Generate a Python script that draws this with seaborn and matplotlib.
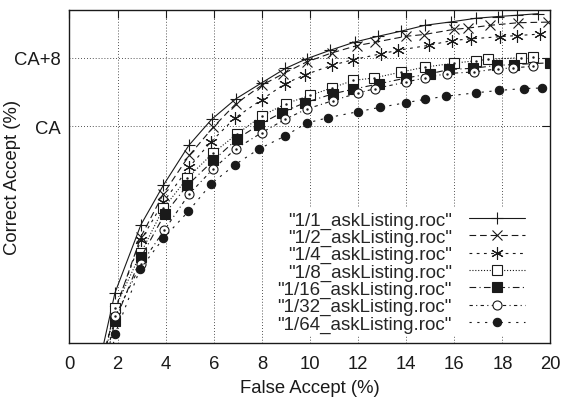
import matplotlib
matplotlib.use("Agg")
import matplotlib.pyplot as plt
import seaborn as sns
import numpy as np

sns.set_theme(style="white")
plt.rcParams['font.family'] = ['Liberation Sans', 'DejaVu Sans']

# ---- data (y relative to CA) ----
labels = ['"1/1_askListing.roc"', '"1/2_askListing.roc"', '"1/4_askListing.roc"',
          '"1/8_askListing.roc"', '"1/16_askListing.roc"', '"1/32_askListing.roc"',
          '"1/64_askListing.roc"']

x_1_1 = [1.35, 1.89, 2.97, 3.9, 4.96, 5.91, 6.92, 7.99, 8.98, 9.86, 10.83, 11.87, 12.84, 13.8, 14.78, 15.85, 16.9, 17.8, 18.6, 19.5]
y_1_1 = [-26.3, -19.45, -11.5, -6.9, -2.24, 0.8, 3.2, 5.06, 6.75, 7.87, 8.86, 9.83, 10.5, 11.1, 11.78, 12.17, 12.6, 12.8, 12.95, 13.14]

x_1_2 = [1.4, 1.9, 2.97, 3.9, 4.98, 5.98, 6.92, 7.99, 8.89, 9.86, 10.9, 11.94, 12.7, 14.0, 14.74, 15.98, 16.55, 17.5, 18.66, 19.9]
y_1_2 = [-27.0, -21.5, -12.9, -7.9, -3.4, -0.1, 2.63, 4.77, 6.13, 7.5, 8.55, 9.4, 9.8, 10.5, 10.7, 11.3, 11.45, 11.78, 12.08, 12.15]

x_1_4 = [1.4, 1.9, 2.97, 3.9, 4.98, 5.87, 6.88, 7.99, 8.96, 9.79, 10.9, 11.77, 12.95, 13.67, 14.95, 15.9, 16.7, 17.9, 18.6, 19.55]
y_1_4 = [-27.0, -21.3, -13.3, -8.86, -4.77, -1.85, 0.96, 3.1, 4.96, 6.0, 7.1, 7.75, 8.45, 8.86, 9.45, 10.0, 10.2, 10.45, 10.58, 10.75]

x_1_8 = [1.45, 1.9, 2.97, 3.9, 4.9, 5.98, 6.98, 7.99, 9.0, 10.0, 10.9, 11.8, 12.66, 13.8, 14.78, 15.97, 16.9, 17.4, 18.78, 19.28]
y_1_8 = [-27.0, -21.2, -14.8, -9.6, -6.05, -3.1, -0.88, 1.19, 2.63, 3.6, 4.46, 5.35, 5.63, 6.33, 6.9, 7.35, 7.65, 7.8, 8.0, 8.05]

x_1_16 = [1.5, 1.9, 2.97, 3.97, 4.9, 5.98, 6.98, 7.89, 8.82, 9.79, 10.97, 11.77, 12.88, 14.0, 14.99, 15.79, 16.76, 17.79, 18.49, 19.98]
y_1_16 = [-27.5, -22.7, -15.3, -10.2, -6.9, -4.0, -1.46, 0.18, 1.58, 2.75, 3.8, 4.3, 4.96, 5.63, 6.13, 6.62, 6.76, 7.1, 7.2, 7.4]

x_1_32 = [1.5, 1.9, 2.97, 3.95, 4.98, 5.98, 6.92, 7.99, 8.96, 9.86, 10.97, 12.0, 12.7, 14.0, 14.8, 15.7, 16.8, 17.8, 18.43, 19.27]
y_1_32 = [-27.5, -22.2, -16.1, -12.1, -7.9, -4.96, -2.63, -0.76, 0.8, 2.0, 3.0, 3.88, 4.38, 5.16, 5.65, 6.15, 6.33, 6.7, 6.8, 7.0]

x_1_64 = [1.6, 1.9, 2.93, 3.9, 4.94, 5.9, 6.88, 7.89, 8.96, 9.86, 10.76, 12.0, 12.9, 14.0, 14.8, 15.65, 16.9, 17.87, 18.9, 19.66]
y_1_64 = [-29.0, -24.2, -16.7, -13.1, -9.95, -6.7, -4.5, -2.63, -1.15, 0.37, 1.0, 1.7, 2.2, 2.75, 3.15, 3.5, 3.9, 4.18, 4.4, 4.46]

xs = [x_1_1, x_1_2, x_1_4, x_1_8, x_1_16, x_1_32, x_1_64]
ys = [y_1_1, y_1_2, y_1_4, y_1_8, y_1_16, y_1_32, y_1_64]

x_ticks = list(range(0, 21, 2))
y_ticks = [0, 8]
y_ticklabels = ["CA", "CA+8"]

# ---- styles ----
styles = [
    dict(marker='+', ms=9, mfc='k', dash=None),
    dict(marker='x', ms=7, mfc='k', dash=(6, 3.5)),
    dict(marker=(6, 2, 0), ms=9, mfc='k', dash=(2.5, 4)),
    dict(marker='s', ms=6.5, mfc='white', dash=(1, 1.6)),
    dict(marker='s', ms=6.5, mfc='k', dash=(6, 3, 1, 3)),
    dict(marker='o', ms=6.5, mfc='white', dash=(3, 3, 1, 3)),
    dict(marker='o', ms=6, mfc='k', dash=(2, 5)),
]

fig = plt.figure(figsize=(5.65, 4.02), dpi=100)
ax = fig.add_axes([0.123, 0.1443, 0.8513, 0.8291])

for x, y, lab, st in zip(xs, ys, labels, styles):
    kw = dict(color='k', lw=0.8, marker=st['marker'], ms=st['ms'],
              mfc=st['mfc'], mec='k', mew=0.8, label=lab)
    if st['dash'] is None:
        kw['linestyle'] = '-'
    else:
        kw['linestyle'] = (0, st['dash'])
    sns.lineplot(x=x, y=y, ax=ax, estimator=None, sort=False, **kw)
    if st['mfc'] == 'white':
        ax.plot(x, y, linestyle='none', marker='.', ms=1.5, color='k')

ax.set_xlim(0, 20)
ax.set_ylim(-25.3, 13.6)
ax.set_xticks(x_ticks)
ax.set_xticklabels([str(t) for t in x_ticks])
ax.set_yticks(y_ticks)
ax.set_yticklabels(y_ticklabels)
ax.tick_params(direction='in', top=True, right=True, length=6, width=0.8,
               labelsize=13.3, colors='k', pad=6)
ax.tick_params(axis='x', pad=9)
for sp in ax.spines.values():
    sp.set_color('k')
    sp.set_linewidth(1.0)
ax.grid(True, color='k', linestyle=(0, (1, 2.5)), linewidth=0.6)
ax.set_axisbelow(True)

ax.set_xlabel("False Accept (%)", fontsize=13.3, color='k', labelpad=5)
ax.set_ylabel("Correct Accept (%)", fontsize=13.3, color='k')
ax.yaxis.set_label_coords(-0.1, 0.5)

leg = ax.legend(loc='lower right', bbox_to_anchor=(0.955, 0.02), markerfirst=False,
                fontsize=13.5, handlelength=3.0, handletextpad=0.9,
                labelspacing=0.0, borderpad=0.2, borderaxespad=0,
                frameon=True, fancybox=False, facecolor='white',
                edgecolor='none', framealpha=1.0)

fig.savefig("out.png", dpi=100)
